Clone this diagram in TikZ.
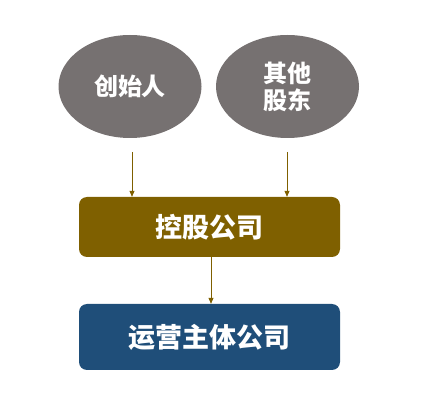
\documentclass[tikz,border=0pt]{standalone}
\usepackage{fontspec}
\newfontfamily\cjk{Noto Sans CJK SC Black}
\usetikzlibrary{shapes.geometric,arrows.meta}
\definecolor{ellgray}{HTML}{767171}
\definecolor{olive}{HTML}{7F6000}
\definecolor{navy}{HTML}{1F4E79}
\begin{document}
\begin{tikzpicture}[x=1pt,y=-1pt,
  person/.style={ellipse,fill=ellgray,minimum width=143pt,minimum height=103pt,inner sep=0pt,text=white,font=\cjk\fontsize{24}{27}\selectfont,align=center},
  company/.style={rounded corners=8pt,minimum width=261pt,inner sep=0pt,text=white,font=\cjk\fontsize{27}{30}\selectfont},
  link/.style={draw=olive,line width=0.8pt,-{Triangle[length=6pt,width=5pt]}}]
\useasboundingbox (0,0) rectangle (432,414);
\node[person] (f) at (130,86.5) {创始人};
\node[person] (o) at (287.5,86.5) {其他\\股东};
\node[company,fill=olive,minimum height=60pt] (h) at (209.5,227) {控股公司};
\node[company,fill=navy,minimum height=66pt] (r) at (209.5,337) {运营主体公司};
\coordinate (f1) at (132,152);
\coordinate (o1) at (287,152);
\draw[link] (f1) -- (f1 |- h.north);
\draw[link] (o1) -- (o1 |- h.north);
\draw[link] (h.south -| 211,0) -- (r.north -| 211,0);
\end{tikzpicture}
\end{document}
